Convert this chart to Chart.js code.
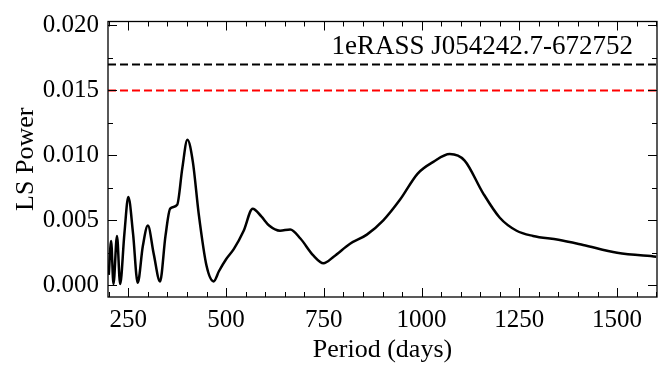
<!DOCTYPE html>
<html>
<head>
<meta charset="utf-8">
<script src="https://cdn.jsdelivr.net/npm/chart.js@4.4.0/dist/chart.umd.min.js"></script>
<style>
    html, body { margin: 0; padding: 0; background: #fff; }
    canvas { display: block; }
</style>
</head>
<body>
<canvas id="lsChart" width="672" height="378"></canvas>
<script>
// Lomb-Scargle periodogram
const periods = [200, 206, 212, 221, 229, 240, 250, 262, 274, 287, 300, 315, 331, 345, 357, 375, 388, 401, 415, 430,
    450, 468, 482, 500, 520, 545, 568, 590, 610, 638, 664, 690, 723, 749, 775, 817, 860, 902, 945, 990,
    1030, 1072, 1110, 1157, 1200, 1243, 1285, 1350, 1413, 1500, 1600];
const power = [0.0008, 0.0034, 0.0001, 0.0038, 0.0001, 0.0040, 0.0068, 0.0040, 0.0002, 0.0030, 0.0046, 0.0024, 0.0003, 0.0038, 0.0059, 0.0062, 0.0090, 0.0112, 0.0095, 0.0055,
    0.0015, 0.0003, 0.0011, 0.0020, 0.0028, 0.0042, 0.0059, 0.0053, 0.0046, 0.0042, 0.0043, 0.0036, 0.0023, 0.0017, 0.0022, 0.0032, 0.0039, 0.0050, 0.0066, 0.0086,
    0.0095, 0.0101, 0.0096, 0.0071, 0.0052, 0.0042, 0.0038, 0.0035, 0.0031, 0.0025, 0.0022];

const periodRange = [198, 1602];
const powerRange = [-0.0009, 0.0203];
const thresholdBlack = 0.017;
const thresholdRed = 0.015;

const xMajorTicks = [250, 500, 750, 1000, 1250, 1500];
const xMinorStep = 50;
const yMajorTicks = [0.000, 0.005, 0.010, 0.015, 0.020];
const yMinorStep = 0.0025;

const sourceName = '1eRASS J054242.7-672752';

const serif = "'Liberation Serif', 'DejaVu Serif', serif";

// inward ticks on all four sides + frame + source label
const frameTicks = {
    id: 'frameTicks',
    afterDatasetsDraw(chart) {
        const { ctx, chartArea: a, scales: { x, y } } = chart;
        ctx.save();
        ctx.strokeStyle = '#000';
        ctx.lineWidth = 1;
        const tick = (px, len, vertical) => {
            ctx.beginPath();
            if (vertical) {
                ctx.moveTo(px, a.bottom); ctx.lineTo(px, a.bottom - len);
                ctx.moveTo(px, a.top); ctx.lineTo(px, a.top + len);
            } else {
                ctx.moveTo(a.left, px); ctx.lineTo(a.left + len, px);
                ctx.moveTo(a.right, px); ctx.lineTo(a.right - len, px);
            }
            ctx.stroke();
        };
        for (let v = 200; v <= 1600; v += xMinorStep) {
            if (xMajorTicks.includes(v)) continue;
            tick(Math.round(x.getPixelForValue(v)) + 0.5, 5, true);
        }
        xMajorTicks.forEach(v => tick(Math.round(x.getPixelForValue(v)) + 0.5, 9, true));
        for (let v = 0; v <= powerRange[1] + 1e-9; v += yMinorStep) {
            const major = yMajorTicks.some(t => Math.abs(t - v) < 1e-9);
            tick(Math.round(y.getPixelForValue(v)) + 0.5, major ? 9 : 5, false);
        }
        ctx.lineWidth = 1.3;
        ctx.strokeRect(a.left, a.top, a.right - a.left, a.bottom - a.top);

        ctx.fillStyle = '#000';
        ctx.font = '27px ' + serif;
        ctx.textAlign = 'right';
        ctx.textBaseline = 'alphabetic';
        ctx.fillText(sourceName, 633, 54);
        ctx.restore();
    }
};

const lineOf = (level) => periodRange.map(p => ({ x: p, y: level }));

const ctx = document.getElementById('lsChart').getContext('2d');
new Chart(ctx, {
    type: 'line',
    data: {
        datasets: [{
            data: periods.map((p, i) => ({ x: p, y: power[i] })),
            borderColor: '#000',
            borderWidth: 2.5,
            pointRadius: 0,
            fill: false,
            cubicInterpolationMode: 'monotone'
        }, {
            data: lineOf(thresholdBlack),
            borderColor: '#000',
            borderWidth: 2,
            borderDash: [8, 4],
            pointRadius: 0
        }, {
            data: lineOf(thresholdRed),
            borderColor: '#ff0000',
            borderWidth: 2,
            borderDash: [8, 4],
            pointRadius: 0
        }]
    },
    options: {
        responsive: false,
        animation: false,
        devicePixelRatio: 1,
        layout: {
            padding: { top: 17, right: 15, left: 0, bottom: 0 }
        },
        plugins: {
            legend: { display: false },
            tooltip: { enabled: false }
        },
        scales: {
            x: {
                type: 'linear',
                min: periodRange[0],
                max: periodRange[1],
                afterBuildTicks: (scale) => { scale.ticks = xMajorTicks.map(v => ({ value: v })); },
                afterFit: (scale) => { scale.height = 81; },
                grid: { display: false, drawTicks: false },
                border: { display: false },
                ticks: {
                    color: '#000',
                    padding: 8,
                    maxRotation: 0,
                    font: { family: serif, size: 25 },
                    callback: (v) => String(v)
                },
                title: {
                    display: true,
                    text: 'Period (days)',
                    color: '#000',
                    font: { family: serif, size: 26 },
                    padding: { top: 0, bottom: 12 }
                }
            },
            y: {
                min: powerRange[0],
                max: powerRange[1],
                afterBuildTicks: (scale) => { scale.ticks = yMajorTicks.map(v => ({ value: v })); },
                afterFit: (scale) => { scale.width = 108; },
                grid: { display: false, drawTicks: false },
                border: { display: false },
                ticks: {
                    color: '#000',
                    padding: 9,
                    font: { family: serif, size: 25, lineHeight: 1 },
                    callback: (v) => v.toFixed(3)
                },
                title: {
                    display: true,
                    text: 'LS Power',
                    color: '#000',
                    font: { family: serif, size: 26 },
                    padding: { top: 11, bottom: 0 }
                }
            }
        }
    },
    plugins: [frameTicks]
});
</script>
</body>
</html>
